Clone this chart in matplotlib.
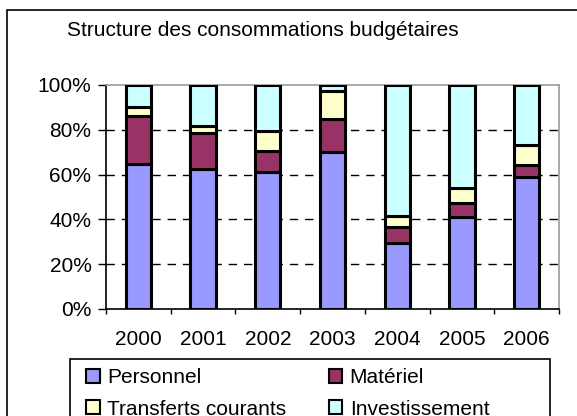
import matplotlib
matplotlib.use("Agg")
import matplotlib.pyplot as plt
from matplotlib.patches import Rectangle, Patch
import numpy as np

years = ["2000", "2001", "2002", "2003", "2004", "2005", "2006"]
personnel = [64.9, 62.5, 61.3, 70.0, 29.6, 41.0, 59.0]
materiel = [21.1, 16.2, 9.3, 15.0, 6.9, 6.3, 5.1]
transferts = [4.4, 3.0, 8.8, 12.2, 4.8, 6.6, 9.3]
investissement = [9.6, 18.3, 20.6, 2.8, 58.7, 46.1, 26.6]

series = [("Personnel", personnel, "#9999ff"),
          ("Matériel", materiel, "#993366"),
          ("Transferts courants", transferts, "#ffffcc"),
          ("Investissement", investissement, "#ccffff")]

plt.rcParams['font.family'] = ['Liberation Sans', 'DejaVu Sans']
FS = 15

W, H = 577, 416
fig = plt.figure(figsize=(W / 100, H / 100), dpi=100)

def fx(px):
    return px / W

def fy(py):
    return 1 - py / H

# outer frame
fig.patches.append(Rectangle((fx(7), fy(440)), fx(600) - fx(7), fy(10) - fy(440),
                             transform=fig.transFigure, fill=False,
                             edgecolor="black", linewidth=1.2))

ax = fig.add_axes([fx(106), fy(309), fx(559) - fx(106), fy(85) - fy(309)])
x = np.arange(len(years))
bottom = np.zeros(len(years))
for name, vals, col in series:
    ax.bar(x, vals, 0.39, bottom=bottom, color=col, edgecolor="black",
           linewidth=2.2, label=name, zorder=3)
    bottom += np.array(vals)

ax.set_xlim(-0.5, len(years) - 0.5)
ax.set_ylim(0, 100)
ax.set_yticks([0, 20, 40, 60, 80, 100])
ax.set_yticklabels(["0%", "20%", "40%", "60%", "80%", "100%"], fontsize=FS)
ax.set_xticks(x)
ax.set_xticklabels(years, fontsize=FS)
ax.set_xticks(np.arange(-0.5, len(years)), minor=True)
ax.tick_params(axis="x", which="major", length=0, pad=15)
ax.tick_params(axis="x", which="minor", length=3.6, width=1, direction="out")
ax.tick_params(axis="y", length=5.5, width=1, direction="out", pad=5)
for yv in [20, 40, 60, 80]:
    ax.axhline(yv, color="black", linestyle=(0, (6, 5)), linewidth=1, zorder=1)
ax.spines["left"].set_color("black")
ax.spines["bottom"].set_color("black")
ax.spines["top"].set_color("#999999")
ax.spines["right"].set_color("#999999")
for s in ax.spines.values():
    s.set_linewidth(1.2)

fig.text(fx(263), fy(30), "Structure des consommations budgétaires",
         ha="center", va="center", fontsize=FS)

# legend box
fig.patches.append(Rectangle((fx(70), fy(440)), fx(550) - fx(70), fy(359) - fy(440),
                             transform=fig.transFigure, fill=False,
                             edgecolor="black", linewidth=1.2))
handles = [Patch(facecolor=c, edgecolor="black", linewidth=1.5) for _, _, c in series]
labels = [n for n, _, _ in series]
order = [0, 2, 1, 3]
fig.legend([handles[i] for i in order], [labels[i] for i in order],
           ncol=2, loc="upper left", bbox_to_anchor=(fx(82), fy(364)),
           frameon=False, fontsize=FS, handlelength=0.65, handleheight=0.65,
           handletextpad=0.35, columnspacing=2.05, labelspacing=0.6,
           borderpad=0.2, borderaxespad=0)

fig.savefig("out.png", dpi=100)
